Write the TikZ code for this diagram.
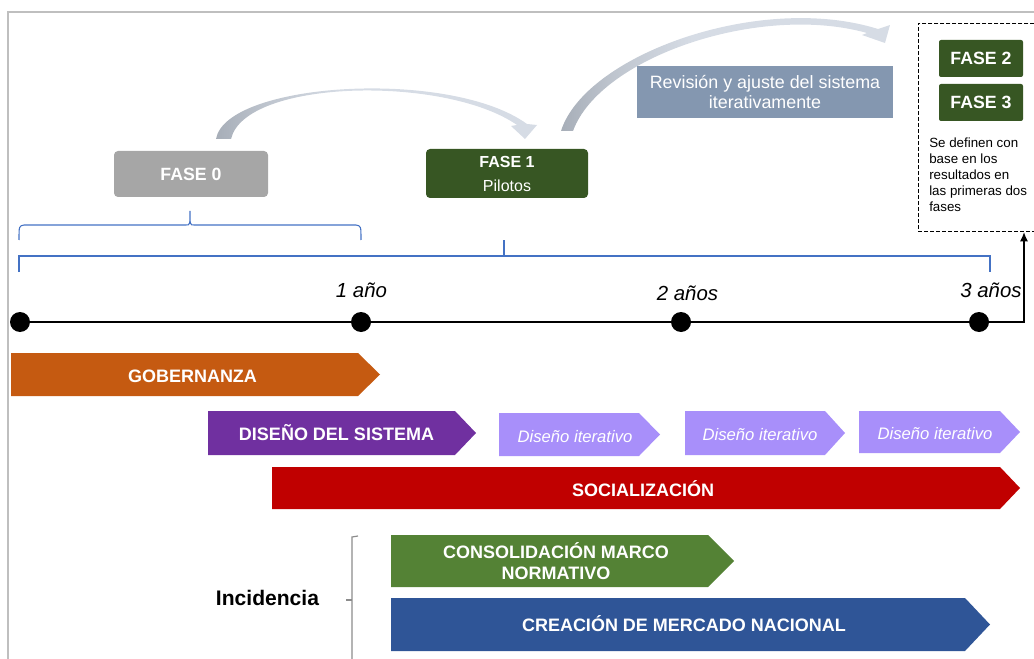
\documentclass[tikz,border=0pt]{standalone}
\usepackage{fontspec}
\setmainfont{Liberation Sans}
\usetikzlibrary{arrows.meta}
\definecolor{gob}{HTML}{C55A11}
\definecolor{dis}{HTML}{7030A0}
\definecolor{ite}{HTML}{A88FFA}
\definecolor{soc}{HTML}{C00000}
\definecolor{con}{HTML}{548235}
\definecolor{cre}{HTML}{2F5597}
\definecolor{fgreen}{HTML}{375623}
\definecolor{fgray}{HTML}{A6A6A6}
\definecolor{rev}{HTML}{8497B0}
\definecolor{brblue}{HTML}{4472C4}
\definecolor{arrl}{HTML}{D6DCE5}
\definecolor{arrd}{HTML}{A7AEB8}
\definecolor{framegray}{HTML}{BFBFBF}
\definecolor{incgray}{HTML}{8C8C8C}
\pgfdeclarehorizontalshading{arrsh}{100bp}{color(0bp)=(arrd); color(25bp)=(arrd); color(33bp)=(arrd!50!arrl); color(45bp)=(arrl); color(100bp)=(arrl)}
\newcommand{\pentbar}[6]{\fill[#6] (#1,#4) -- (#2,#4) -- (#3,{(#4+#5)/2}) -- (#2,#5) -- (#1,#5) -- cycle;}
\begin{document}
\begin{tikzpicture}[x=0.75pt,y=-0.75pt,
  bartext/.style={text=white,font=\fontsize{13.5}{15.75}\selectfont\bfseries,anchor=base,inner sep=0pt,align=center},
  itetext/.style={text=white,font=\fontsize{12.5}{15}\selectfont\itshape,anchor=base,inner sep=0pt},
  yeartext/.style={font=\fontsize{15.3}{18}\selectfont\itshape,anchor=base,inner sep=0pt},
  fasebox/.style={fill=fgreen,text=white,inner sep=0pt,font=\fontsize{13.3}{16}\selectfont\bfseries},
  dot/.style={circle,fill=black,minimum size=15pt,inner sep=0pt},
  brace/.style={draw=brblue,line width=0.8pt}]
\useasboundingbox (0,0) rectangle (1034,659);
% frame
\draw[framegray,line width=1.1pt] (8,659) -- (8,12) -- (1034,12);

% curved arrows
\shade[shading=arrsh]
  (216,139) .. controls (226,82) and (450,68) .. (527,124) -- (537,125) -- (525,139) -- (511,126) -- (517,125)
  .. controls (445,75) and (245,79) .. (231,139) -- cycle;
\shade[shading=arrsh]
  (561,131) .. controls (585,55) and (760,-8) .. (878,29) -- (890,25) -- (885,43) -- (862,35) -- (867,33)
  .. controls (760,3) and (600,57) .. (573,131) -- cycle;

% phase boxes
\node[fill=fgray,rounded corners=3pt,text=white,inner sep=0pt,minimum width=115.5pt,minimum height=34.5pt,
  font=\fontsize{13.3}{16}\selectfont\bfseries] (f0) at (191,174) {FASE 0};
\node[fill=fgreen,rounded corners=3pt,text=white,inner sep=0pt,minimum width=121.5pt,minimum height=36.75pt,
  align=center,font=\fontsize{12}{18}\selectfont] (f1) at (507,173.5) {\textbf{FASE 1}\\Pilotos};
\node[fill=rev,text=white,inner sep=0pt,minimum width=192pt,minimum height=39pt,align=center,
  font=\fontsize{13.4}{15}\selectfont] (rev) at (765,92.5) {Revisión y ajuste del sistema\\iterativamente};

% dashed box
\node[draw,dash pattern=on 3pt off 1.5pt,line width=0.7pt,anchor=north west,inner sep=0pt,
  minimum width=96pt,minimum height=156pt] (dbox) at (918,23) {};
\node[fasebox,rounded corners=1.5pt,minimum width=63pt,minimum height=27.75pt] (f2) at (981,58.5) {FASE 2};
\node[fasebox,rounded corners=1.5pt,minimum width=63pt,minimum height=27.75pt] (f3) at (981,102.5) {FASE 3};
\node[anchor=north west,inner sep=0pt,align=left,font=\fontsize{10}{12}\selectfont] (note) at (929,138)
  {Se definen con\\base en los\\resultados en\\las primeras dos\\fases};

% braces
\draw[brace] (19,240) .. controls (19,226) .. (24,225) -- (186,225) .. controls (190,225) .. (190,211)
  .. controls (190,225) .. (194,225) -- (356,225) .. controls (361,226) .. (361,240);
\draw[brace] (19,272) -- (19,256) -- (990,256) -- (990,272);
\draw[brace] (504,256) -- (504,240);

% timeline
\coordinate (t0) at (20,322);
\coordinate (t1) at (361,322);
\coordinate (t2) at (681,322);
\coordinate (t3) at (979,322);
\coordinate (c1) at (1024,322);
\draw[line width=1.5pt] (t0) -- (t3);
\draw[line width=1.2pt,-{Latex[length=7pt,width=6pt]}] (t3) -- (c1) -- (c1 |- dbox.south);
\node[dot] (d0) at (t0) {};
\node[dot] (d1) at (t1) {};
\node[dot] (d2) at (t2) {};
\node[dot] (d3) at (t3) {};
\node[yeartext] (y1) at (361.5,297) {1 año};
\node[yeartext] (y2) at (687.5,300) {2 años};
\node[yeartext] (y3) at (991,297) {3 años};

% bars
\pentbar{11}{358}{380}{353}{396}{gob}
\pentbar{208}{455}{476}{411}{455}{dis}
\pentbar{499}{639}{660}{413}{456}{ite}
\pentbar{685}{825}{845}{411}{455}{ite}
\pentbar{859}{1000}{1020}{411}{453}{ite}
\pentbar{272}{1000}{1020}{467}{509}{soc}
\pentbar{391}{708}{734}{535}{587}{con}
\pentbar{391}{965}{990}{598}{651}{cre}
\node[bartext] (gobt) at (192.5,382) {GOBERNANZA};
\node[bartext] (dist) at (336.5,440) {DISEÑO DEL SISTEMA};
\node[itetext] (it1) at (575,442) {Diseño iterativo};
\node[itetext] (it2) at (760,440) {Diseño iterativo};
\node[itetext] (it3) at (935,439) {Diseño iterativo};
\node[bartext] (soct) at (643,496) {SOCIALIZACIÓN};
\node[bartext] (cont) at (556,579) {CONSOLIDACIÓN MARCO\\NORMATIVO};
\node[bartext] (cret) at (684,631) {CREACIÓN DE MERCADO NACIONAL};

% incidencia
\node[anchor=base,inner sep=0pt,font=\fontsize{15.8}{18}\selectfont\bfseries] (inc) at (267.5,605) {Incidencia};
\draw[incgray,line width=0.9pt] (358,536) -- (352,537) -- (352,659);
\draw[incgray,line width=0.9pt] (346,600) -- (352,600);
\end{tikzpicture}
\end{document}
